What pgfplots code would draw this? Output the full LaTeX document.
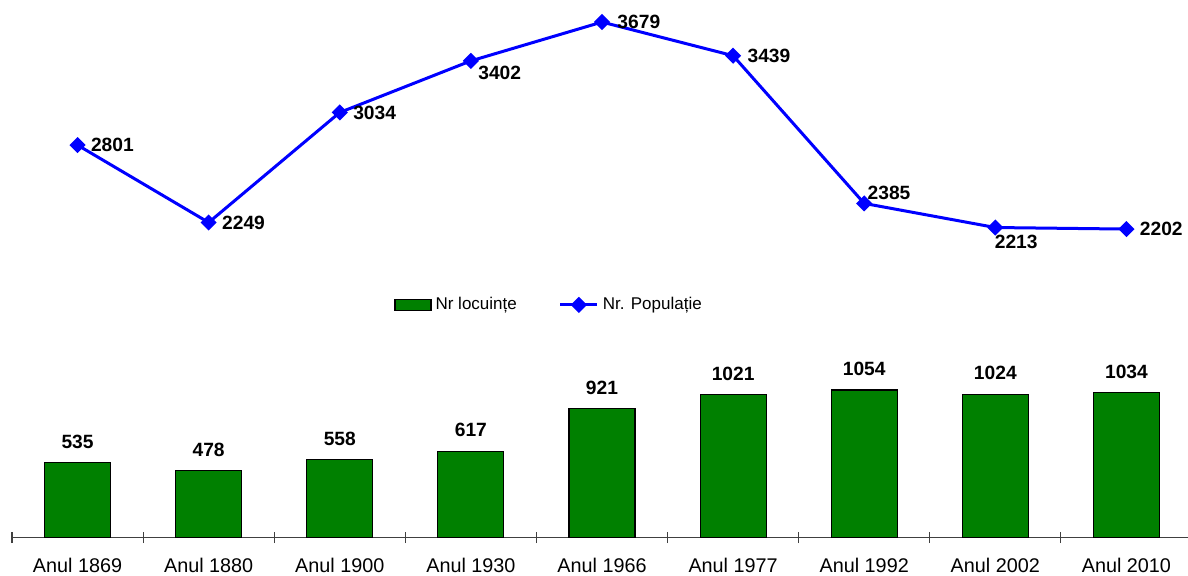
\documentclass[border=0pt]{standalone}
\usepackage{fontspec}
\setmainfont{Liberation Sans}
\usepackage{pgfplots}
\pgfplotsset{compat=1.18}
\usepackage{pgfplotstable}
\definecolor{bargreen}{RGB}{0,128,0}
\definecolor{lineblue}{RGB}{0,0,255}
\definecolor{axisgray}{RGB}{64,64,64}

\pgfplotstableread{
x y
0 535
1 478
2 558
3 617
4 921
5 1021
6 1054
7 1024
8 1034
}\bars

\pgfplotstableread{
x y dx dy
0 2801 6 0
1 2249 6 0
2 3034 6 0
3 3402 3 -6
4 3679 7 0
5 3439 6.5 0
6 2385 1 5.5
7 2213 -1 -7
8 2202 6 0
}\pop

\begin{document}
\begin{tikzpicture}
\begin{axis}[
  scale only axis,
  width=590pt, height=266.3pt,
  xmin=-0.5, xmax=8.5, ymin=0, ymax=3800,
  axis y line=none,
  axis x line=bottom,
  x axis line style={axisgray, line width=0.6pt, -},
  xtick={0,...,8},
  xticklabels={Anul 1869,Anul 1880,Anul 1900,Anul 1930,Anul 1966,Anul 1977,Anul 1992,Anul 2002,Anul 2010},
  major tick length=0pt,
  minor xtick={-0.5,0.5,...,8.5},
  minor tick length=5.5pt,
  tick align=center,
  tick style={axisgray, line width=0.6pt},
  xticklabel style={font=\fontsize{9.9}{11}\selectfont},
  xticklabel shift=6.7pt,
  ytick=\empty,
  clip=false,
  /pgf/number format/assume math mode=true,
  /pgf/number format/1000 sep={},
  legend columns=2,
  legend style={at={(0.456,0.437)}, anchor=center, draw=none, fill=none,
    font=\fontsize{8.5}{10}\selectfont,
    /tikz/every even column/.append style={column sep=19pt},
    inner sep=1pt, row sep=0pt},
]
\addplot[ybar, bar width=33pt, fill=bargreen, draw=black, line width=0.6pt,
  nodes near coords,
  nodes near coords style={font=\bfseries\fontsize{9.6}{11}\selectfont, text=black, yshift=3.5pt},
  legend image code/.code={\draw[fill=bargreen, draw=black, line width=0.6pt] (0pt,-2.75pt) rectangle (18pt,2.75pt);}
] table[x=x,y=y]{\bars};
\addlegendentry{Nr locuințe}
\addplot[lineblue, line width=1.5pt, mark=square*, mark size=2.1pt,
  mark options={rotate=45, solid, fill=lineblue},
  visualization depends on={\thisrow{dx} \as \dx},
  visualization depends on={\thisrow{dy} \as \dy},
  nodes near coords,
  nodes near coords style={anchor=west, inner sep=0pt, xshift=\dx pt, yshift=\dy pt,
    font=\bfseries\fontsize{9.6}{11}\selectfont, text=black},
  legend image code/.code={\draw[lineblue, line width=1.5pt] (0pt,0pt) -- (18.5pt,0pt);
    \fill[lineblue] (9.25pt,0pt) +(0,3pt) -- +(3pt,0) -- +(0,-3pt) -- +(-3pt,0) -- cycle;}
] table[x=x,y=y]{\pop};
\addlegendentry{Nr. Populație}
\end{axis}
\pgfresetboundingbox
\path[use as bounding box] (-6pt,-19.15pt) rectangle (588pt,268.85pt);
\end{tikzpicture}
\end{document}
